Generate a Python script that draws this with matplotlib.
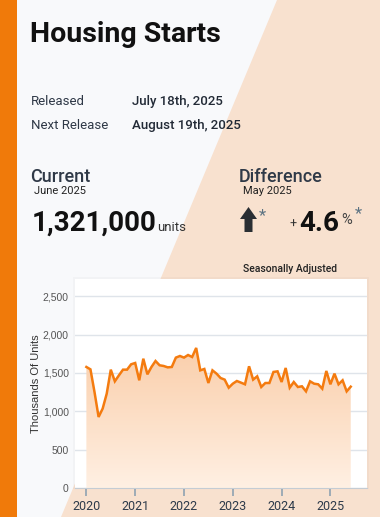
import numpy as np
import matplotlib
matplotlib.use("Agg")
import matplotlib.pyplot as plt
from matplotlib.patches import Polygon, Rectangle, FancyArrow
from matplotlib.colors import LinearSegmentedColormap

plt.rcParams["font.family"] = ["Roboto", "DejaVu Sans"]

# Monthly housing starts, Jan 2020 .. Jun 2025 (thousands of units, SAAR)
starts = [
    1578, 1547, 1250, 926, 1035, 1230, 1543, 1391, 1469, 1543, 1543, 1613,
    1630, 1404, 1686, 1482, 1578, 1656, 1600, 1591, 1573, 1578, 1700, 1721,
    1700, 1734, 1708, 1826, 1534, 1552, 1369, 1534, 1491, 1434, 1413, 1308,
    1360, 1395, 1374, 1352, 1587, 1413, 1456, 1317, 1369, 1369, 1513, 1521,
    1382, 1565, 1308, 1382, 1317, 1326, 1260, 1391, 1360, 1352, 1295, 1526,
    1352, 1491, 1352, 1404, 1260, 1321,
]
year_labels = ["2020", "2021", "2022", "2023", "2024", "2025"]
y_ticks = [0, 500, 1000, 1500, 2000, 2500]

title = "Housing Starts"
released = "July 18th, 2025"
next_release = "August 19th, 2025"
current_period = "June 2025"
current_value = "1,321,000"
diff_period = "May 2025"
diff_value = "4.6"

ORANGE = "#f47b0f"
W, H = 380, 517

fig = plt.figure(figsize=(W / 100, H / 100), dpi=100)
fig.patch.set_facecolor("#f8f9fb")

# background layer in pixel coordinates
bg = fig.add_axes([0, 0, 1, 1])
bg.set_xlim(0, W)
bg.set_ylim(H, 0)
bg.axis("off")
bg.add_patch(Polygon([(277, 0), (W, 0), (W, H), (61, H)], closed=True,
                     facecolor="#f8e1cf", edgecolor="none"))
bg.add_patch(Rectangle((0, 0), 17, H, facecolor="#f07a0a", edgecolor="none"))
# soft shadow behind the chart panel
bg.add_patch(Rectangle((73, 277), 296, 212, facecolor="#000000", alpha=0.025,
                       edgecolor="none"))

dark = "#2f3947"
bg.text(30, 42, title, fontsize=20.5, fontweight="bold", color="#111111")
bg.text(31, 105, "Released", fontsize=9.5, color=dark)
bg.text(132, 105, released, fontsize=9.5, fontweight="medium", color="#222a36")
bg.text(31, 129, "Next Release", fontsize=9.5, color=dark)
bg.text(132, 129, next_release, fontsize=9.5, fontweight="medium", color="#222a36")

bg.text(30, 182, "Current", fontsize=13, fontweight="medium", color=dark)
bg.text(34, 194, current_period, fontsize=8, color="#222222")
bg.text(32, 231, current_value, fontsize=20, fontweight="bold", color="#111111")
bg.text(157, 231, "units", fontsize=9.5, color="#333333")

bg.text(239, 182, "Difference", fontsize=13, fontweight="medium", color=dark)
bg.text(243, 194, diff_period, fontsize=8, color="#222222")
bg.add_patch(FancyArrow(248.5, 232, 0, -25, width=8, head_width=17, head_length=12,
                        length_includes_head=True, facecolor="#2a2e33", edgecolor="none"))
bg.text(262, 216, "*", fontsize=12, color="#5b7282", ha="center", va="center")
bg.text(293, 224, "+", fontsize=9, color="#333333", ha="center", va="center")
bg.text(299, 231, diff_value, fontsize=20, fontweight="bold", color="#111111")
bg.text(341, 224, "%", fontsize=10.5, color="#444444")
bg.text(358, 214, "*", fontsize=12, color="#5b7282", ha="center", va="center")
bg.text(243, 272, "Seasonally Adjusted", fontsize=7.5, fontweight="medium", color="#222222")

# chart
ax = fig.add_axes([75 / W, 29 / H, 292 / W, 209 / H])
ax.set_facecolor("white")
x = np.arange(len(starts))
y = np.array(starts)

ax.set_yticks(y_ticks)
ax.set_yticklabels([f"{v:,}" for v in y_ticks], fontsize=7.5, color="#555555",
                   family=["Liberation Sans"])
ax.tick_params(axis="y", length=0, pad=4.5)
ax.set_xticks(np.arange(len(year_labels)) * 12)
ax.set_xticklabels(year_labels, fontsize=9, color="#2d3a4a")
ax.tick_params(axis="x", length=6, width=1.2, color="#8fa2b2", pad=3)
ax.yaxis.grid(True, color="#dfe4ea", linewidth=1)
ax.set_axisbelow(True)
for s in ["top", "right", "left"]:
    ax.spines[s].set_visible(False)
ax.spines["bottom"].set_color("#c4ccd4")
ax.set_ylabel("Thousands Of Units", fontsize=8, color="#333333", labelpad=1,
              family=["Liberation Sans"])

# gradient area under line
fill = ax.fill_between(x, y, 0, facecolor="none", edgecolor="none")
cmap = LinearSegmentedColormap.from_list("o", [(1, 0.94, 0.89, 1), (0.98, 0.81, 0.67, 1)])
grad = np.linspace(0, 1, 256).reshape(-1, 1)
img = ax.imshow(grad, cmap=cmap, aspect="auto", origin="lower",
                extent=[x[0], x[-1], 0, max(starts)], zorder=1)
img.set_clip_path(fill.get_paths()[0], transform=ax.transData)
ax.plot(x, y, color=ORANGE, linewidth=1.8, zorder=3, solid_joinstyle="miter")
ax.set_xlim(-2.8, 69)
ax.set_ylim(0, 2725)

fig.savefig("out.png", dpi=100)
